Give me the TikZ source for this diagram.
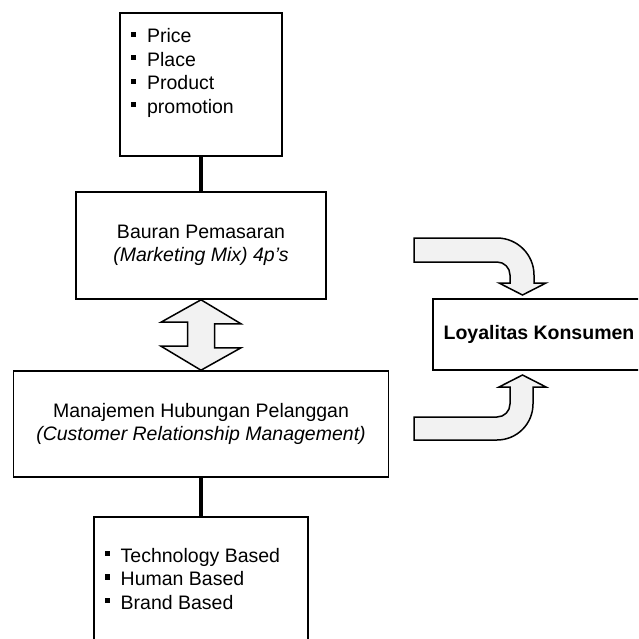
\documentclass[tikz,border=0pt]{standalone}
\usepackage{fontspec}
\setmainfont{Liberation Sans}
\usepackage{tikz}
\usetikzlibrary{positioning,calc}

\tikzset{
  box/.style={draw, line width=1.6pt, rectangle, inner sep=0pt, align=center,
    font=\fontsize{19.5}{22.5}\selectfont},
  link/.style={line width=3.2pt},
  fatarrow/.style={draw, line width=1.5pt, fill=gray!10, line join=miter},
  item/.style={anchor=base west, inner sep=0pt, font=\fontsize{19.5}{22.5}\selectfont},
}
\newcommand{\sqbullet}{\rule[6pt]{5.2pt}{5.2pt}\hspace{11pt}}

\begin{document}
\begin{tikzpicture}[x=1pt,y=-1pt]
  \clip (0,0) rectangle (638,639);
  \useasboundingbox (0,0) rectangle (638,639);
  % boxes
  \node[box, minimum width=162pt, minimum height=143pt] (mix) at (201,84.5) {};
  \node[box, minimum width=250pt, minimum height=107pt] (bauran) at (201,245.5)
    {Bauran Pemasaran\\\textit{(Marketing Mix) 4p’s}};
  \node[box, minimum width=375pt, minimum height=106pt] (crm) at (201,424)
    {Manajemen Hubungan Pelanggan\\\textit{(Customer Relationship Management)}};
  \node[box, minimum width=214pt, minimum height=143pt] (basis) at (201,588.5) {};
  \node[box, minimum width=212pt, minimum height=71pt,
    font=\fontsize{19.5}{22.5}\selectfont\bfseries] (loyal) at (539,334.5) {Loyalitas Konsumen};
  % bullet lists
  \foreach \t [count=\i] in {Price,Place,Product,promotion}
    \node[item] (mix-\i) at (130.7,19.6+23.4*\i) {\sqbullet\t};
  \foreach \t [count=\i] in {Technology Based,Human Based,Brand Based}
    \node[item] (basis-\i) at (104.3,538.5+23.5*\i) {\sqbullet\t};
  % connectors
  \draw[link] (mix.south) -- (bauran.north);
  \draw[link] (crm.south) -- (basis.north);
  % double arrow
  \filldraw[fatarrow] (bauran.south) -- ++(40,24) -- ++(-26.5,0) -- ++(0,24) -- ++(26.5,0)
    -- (crm.north) -- ++(-40,-24) -- ++(26.5,0) -- ++(0,-24) -- ++(-26.5,0) -- cycle;
  % bent arrows to loyalitas
  \filldraw[fatarrow] (414,238) -- (497,238) .. controls (517.4,238) and (534,254.6) .. (534,275)
    -- (534,283) -- (546,283) -- (522.5,295) -- (499,283) -- (510,283) -- (510,275)
    .. controls (510,267.8) and (504.2,262) .. (497,262) -- (414,262) -- cycle;
  \filldraw[fatarrow] (414,440) -- (497,440) .. controls (516.9,440) and (533,423.9) .. (533,404)
    -- (533,387) -- (546,387) -- (522.5,375) -- (499,387) -- (510,387) -- (510,404)
    .. controls (510,411.2) and (504.2,417) .. (497,417) -- (414,417) -- cycle;
\end{tikzpicture}
\end{document}
